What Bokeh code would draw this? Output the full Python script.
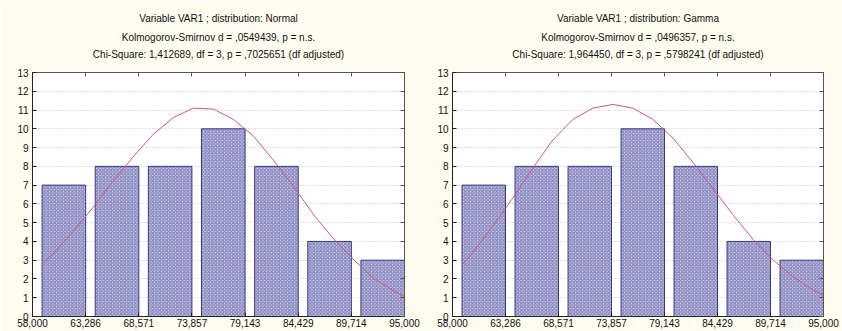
from bokeh.plotting import figure
from bokeh.layouts import row
from bokeh.models import FixedTicker, LinearAxis, Title, Range1d
from bokeh.embed import file_html
from bokeh.resources import INLINE

# ---- data ----
bin_edges = [58000, 63286, 68571, 73857, 79143, 84429, 89714, 95000]
tick_labels = ["58,000", "63,286", "68,571", "73,857", "79,143", "84,429", "89,714", "95,000"]
counts = [7, 8, 8, 10, 8, 4, 3]

curve_x = [58900, 60000, 62000, 64000, 66000, 68000, 70000, 72000, 74000, 76000,
           78000, 80000, 82000, 84000, 86000, 88000, 90000, 92000, 94000, 95000]
normal_y = [2.8, 3.3, 4.5, 5.8, 7.2, 8.5, 9.7, 10.6, 11.1, 11.05,
            10.5, 9.6, 8.3, 6.9, 5.4, 4.1, 3.0, 2.0, 1.35, 1.05]
gamma_y = [2.7, 3.4, 4.8, 6.3, 7.9, 9.4, 10.5, 11.1, 11.3, 11.1,
           10.5, 9.5, 8.2, 6.8, 5.4, 4.1, 3.0, 2.1, 1.4, 1.15]

titles_normal = ["Variable VAR1 ; distribution: Normal",
                 "Kolmogorov-Smirnov d = ,0549439, p = n.s.",
                 "Chi-Square: 1,412689, df = 3, p = ,7025651 (df adjusted)"]
titles_gamma = ["Variable VAR1 ; distribution: Gamma",
                "Kolmogorov-Smirnov d = ,0496357, p = n.s.",
                "Chi-Square: 1,964450, df = 3, p = ,5798241 (df adjusted)"]

BG = "#fefcef"
FONT = "Liberation Sans"
# standoffs of the three title lines, from the line nearest the plot outward
TITLE_STANDOFFS = [1, 8, 3]


def frame_axis(ticks, tick_in, tick_out, color):
    ax = LinearAxis(ticker=FixedTicker(ticks=ticks),
                    major_label_text_font_size="0px", major_label_text_color=None,
                    major_label_standoff=0)
    ax.major_tick_in = tick_in
    ax.major_tick_out = tick_out
    ax.minor_tick_line_color = None
    ax.axis_line_color = color
    ax.major_tick_line_color = color
    return ax


def make_panel(title_lines, curve_y, border_left, border_right):
    p = figure(width=421, height=331, output_backend="svg", toolbar_location=None,
               x_range=Range1d(58000, 95000), y_range=Range1d(0, 13),
               min_border_left=border_left, min_border_right=border_right,
               min_border_top=72, min_border_bottom=15,
               background_fill_color="white", border_fill_color=BG,
               outline_line_color="#555555", x_axis_location=None, y_axis_location=None)

    xa = LinearAxis(ticker=FixedTicker(ticks=bin_edges),
                    major_label_overrides={e: l for e, l in zip(bin_edges, tick_labels)})
    ya = LinearAxis(ticker=FixedTicker(ticks=list(range(0, 14))))
    for ax in (xa, ya):
        ax.major_tick_in = 4
        ax.major_tick_out = 0
        ax.minor_tick_line_color = None
        ax.axis_line_color = "#222222"
        ax.major_tick_line_color = "#222222"
        ax.major_label_text_font = FONT
        ax.major_label_text_font_size = "10px"
        ax.major_label_text_color = "#111111"
    xa.major_label_standoff = 2
    ya.major_label_standoff = 4
    p.add_layout(xa, "below")
    p.add_layout(ya, "left")

    # inward ticks on the top and right frame edges
    p.add_layout(frame_axis(bin_edges, 4, 0, "#555555"), "above")
    p.add_layout(frame_axis(list(range(0, 14)), 4, 0, "#555555"), "right")
    # an undrawn axis that only keeps the gap between frame and title lines
    p.add_layout(frame_axis(bin_edges, 0, 12, None), "above")

    # title lines: the first added sits nearest the plot
    for line, so in zip(reversed(title_lines), TITLE_STANDOFFS):
        p.add_layout(Title(text=line, align="center", text_font=FONT,
                           text_font_size="10px", text_font_style="normal",
                           text_color="#111111", standoff=so), "above")

    p.xgrid.grid_line_color = None
    p.ygrid.ticker = FixedTicker(ticks=list(range(1, 13)))
    p.ygrid.grid_line_color = "#c4c4c4"
    p.ygrid.grid_line_dash = "1 2"

    lefts = [e + 0.18 * (bin_edges[i + 1] - e) for i, e in enumerate(bin_edges[:-1])]
    rights = bin_edges[1:]
    p.quad(left=lefts, right=rights, bottom=0, top=counts,
           fill_color="#cbcbea", line_color="#3a3a82", line_width=1,
           hatch_pattern="diagonal_cross", hatch_color="#7777b5",
           hatch_scale=3.5, hatch_weight=1)
    p.line(curve_x, curve_y, line_color="#d0587a", line_width=1)
    return p


left = make_panel(titles_normal, normal_y, 32, 17)
right = make_panel(titles_gamma, gamma_y, 31, 19)
layout = row(left, right, spacing=0)

open("out.html", "w").write(file_html(layout, INLINE))
